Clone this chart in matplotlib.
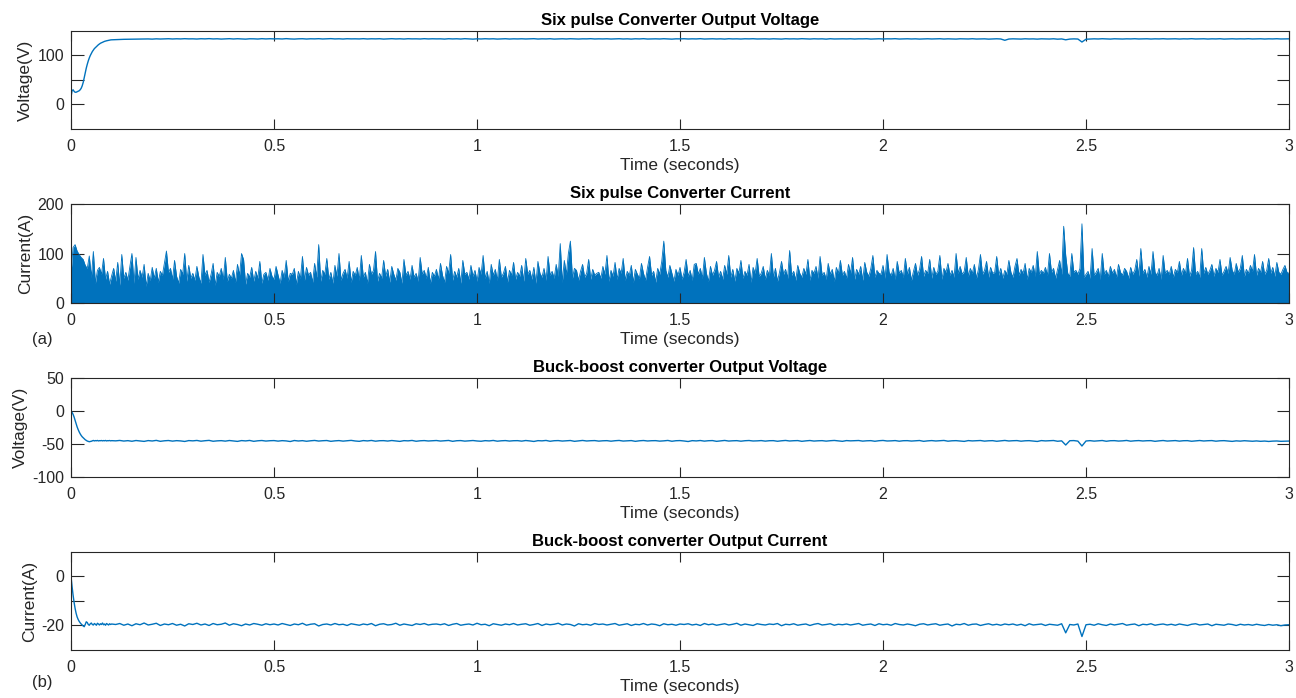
import numpy as np
import matplotlib.pyplot as plt

plt.rcParams['font.family'] = ['Liberation Sans', 'DejaVu Sans']

BLUE = '#0072BD'
DARK = '#262626'

# ---- data ----
# first 0.1 s sampled every 2.5 ms, then every 10 ms up to 3 s
t_start = np.round(np.arange(0, 0.1001, 0.0025), 4)
t_steady = np.round(np.arange(0.11, 3.0001, 0.01), 2)
t_current = np.round(np.arange(0, 3.0001, 0.005), 3)

six_v_start = [15, 28, 30, 27, 25, 25, 26, 27, 28, 30, 33, 38, 45, 55, 65, 74, 82, 89, 95, 100,
               104, 108, 111, 114, 116, 118, 120, 122, 123.5, 125, 126, 127, 128, 128.8, 129.5,
               130, 130.5, 131, 131.4, 131.8, 132]
six_v_steady = [
    132.4, 132.7, 133.0, 133.1, 133.4, 133.2, 133.6, 133.5, 133.8, 133.4, 134.0, 133.6, 133.9, 134.2, 133.7, 134.1, 133.8, 134.3, 133.9, 134.0,
    133.6, 134.2, 133.9, 134.4, 133.8, 134.1, 133.5, 134.0, 134.3, 133.7, 134.2, 133.9, 133.4, 134.1, 134.0, 133.6, 134.3, 133.8, 134.2, 133.9,
    134.1, 133.7, 134.4, 133.8, 133.5, 134.0, 134.2, 133.6, 134.1, 133.9, 134.3, 133.7, 134.0, 134.4, 133.8, 134.1, 133.6, 134.2, 133.9, 134.0,
    133.8, 134.3, 133.7, 134.1, 133.9, 134.2, 133.5, 134.0, 134.3, 133.8, 134.1, 133.6, 134.2, 133.9, 134.0, 133.7, 134.3, 133.8, 134.1, 133.9,
    134.0, 133.5, 134.2, 133.8, 134.1, 133.6, 134.3, 133.9, 133.4, 134.0, 133.7, 134.2, 133.8, 134.1, 133.5, 133.9, 134.2, 133.6, 134.0, 133.8,
    134.1, 133.7, 133.9, 134.3, 133.6, 134.0, 133.8, 134.2, 133.5, 133.9, 134.1, 133.7, 134.2, 133.8, 133.6, 134.0, 133.9, 134.3, 133.7, 134.0,
    133.8, 134.1, 133.6, 133.9, 134.2, 133.7, 134.0, 133.5, 134.1, 133.8, 134.3, 133.6, 133.9, 134.0, 133.7, 134.2, 133.8, 133.4, 134.0, 133.9,
    134.2, 133.7, 134.0, 133.8, 134.3, 133.6, 133.9, 134.1, 133.7, 134.0, 133.5, 134.2, 133.8, 134.0, 133.6, 134.1, 133.9, 134.2, 133.7, 133.8,
    134.0, 133.6, 134.1, 133.9, 133.5, 134.2, 133.8, 134.0, 133.7, 134.3, 133.9, 133.6, 134.1, 133.8, 134.0, 133.4, 134.2, 133.7, 133.9, 134.0,
    133.8, 134.1, 133.6, 134.0, 133.9, 134.2, 133.5, 133.8, 134.1, 133.7, 134.0, 133.9, 134.3, 133.6, 133.8, 134.1, 133.7, 134.0, 133.5, 133.9,
    134.1, 133.7, 133.9, 134.2, 133.6, 134.0, 133.8, 133.5, 134.1, 133.9, 133.7, 134.2, 133.6, 133.9, 134.0, 133.4, 133.8, 134.1, 133.7, 131.0,
    133.6, 134.0, 133.8, 133.5, 134.1, 133.7, 133.9, 133.4, 134.0, 133.8, 133.6, 134.1, 133.3, 133.8, 132.0, 133.5, 133.9, 133.6, 127.5, 133.2,
    133.6, 134.0, 133.7, 134.2, 133.8, 133.5, 134.1, 133.9, 133.6, 134.0, 133.8, 134.2, 133.7, 133.9, 134.1, 133.6, 134.0, 133.8, 134.2, 133.7,
    133.9, 134.1, 133.6, 134.0, 133.8, 134.3, 133.7, 133.9, 134.1, 133.6, 134.0, 133.8, 134.2, 133.5, 133.9, 134.1, 133.7, 134.0, 133.8, 134.2,
    133.7, 133.9, 134.1, 133.6, 134.0, 133.8, 134.2, 133.7, 133.9, 134.0]

six_i = [
    60, 112, 118, 105, 98, 92, 88, 76, 70, 95, 52, 104, 40, 66, 72, 58, 90, 48, 64, 38,
    55, 70, 44, 82, 36, 98, 50, 62, 46, 74, 100, 40, 92, 48, 66, 52, 78, 34, 60, 45,
    72, 50, 70, 42, 64, 56, 80, 105, 62, 70, 48, 86, 54, 40, 68, 58, 100, 44, 76, 50,
    60, 46, 74, 52, 40, 98, 56, 66, 42, 58, 80, 36, 62, 54, 70, 48, 92, 44, 58, 50,
    66, 42, 78, 56, 100, 88, 38, 60, 52, 72, 44, 64, 50, 84, 40, 58, 62, 46, 70, 54,
    48, 74, 56, 40, 66, 52, 86, 44, 60, 58, 70, 38, 64, 50, 94, 46, 72, 56, 62, 42,
    80, 52, 118, 44, 66, 58, 90, 48, 62, 40, 76, 54, 100, 46, 60, 68, 50, 84, 42, 64,
    56, 72, 46, 96, 52, 62, 40, 78, 58, 66, 104, 44, 60, 50, 86, 54, 68, 42, 74, 58,
    46, 70, 62, 40, 88, 56, 64, 48, 76, 52, 60, 44, 92, 58, 66, 50, 72, 40, 62, 54,
    68, 48, 80, 56, 42, 74, 60, 98, 46, 64, 52, 70, 40, 86, 58, 62, 48, 76, 54, 66,
    44, 72, 58, 96, 50, 64, 40, 78, 56, 68, 46, 88, 52, 60, 74, 42, 66, 56, 82, 48,
    62, 54, 76, 44, 90, 58, 66, 48, 72, 40, 84, 60, 52, 70, 46, 94, 56, 64, 50, 78,
    54, 120, 42, 86, 58, 100, 125, 50, 70, 66, 46, 64, 78, 52, 60, 88, 48, 68, 56, 60,
    62, 50, 74, 58, 96, 44, 66, 54, 82, 48, 70, 60, 90, 46, 64, 56, 76, 42, 68, 58,
    50, 80, 60, 46, 72, 94, 56, 64, 42, 70, 58, 84, 125, 66, 52, 76, 60, 44, 68, 56,
    72, 48, 62, 88, 54, 66, 46, 78, 80, 58, 70, 50, 92, 60, 44, 74, 56, 66, 84, 52,
    64, 48, 76, 58, 96, 52, 68, 44, 70, 60, 86, 50, 64, 56, 78, 42, 72, 60, 90, 54,
    60, 74, 48, 66, 56, 100, 52, 70, 44, 62, 84, 58, 68, 50, 106, 56, 64, 46, 76, 60,
    52, 70, 58, 88, 46, 66, 60, 74, 50, 94, 56, 62, 48, 80, 58, 68, 44, 72, 60, 86,
    56, 64, 50, 78, 60, 92, 48, 68, 58, 74, 46, 82, 62, 54, 70, 96, 52, 66, 60, 58,
    76, 50, 98, 62, 56, 70, 48, 84, 60, 66, 52, 90, 58, 72, 46, 64, 80, 56, 68, 94,
    54, 66, 60, 88, 50, 72, 58, 64, 96, 48, 70, 62, 80, 56, 66, 52, 100, 60, 74, 58,
    64, 92, 54, 70, 60, 78, 50, 68, 98, 58, 66, 84, 52, 72, 60, 62, 94, 56, 70, 50,
    66, 58, 86, 62, 52, 74, 90, 56, 68, 60, 80, 48, 70, 62, 76, 54, 104, 58, 66, 60,
    72, 56, 100, 62, 70, 50, 68, 86, 58, 155, 96, 60, 54, 100, 62, 66, 58, 70, 160, 52,
    58, 64, 50, 110, 56, 62, 70, 48, 100, 58, 66, 54, 74, 60, 68, 52, 78, 62, 56, 70,
    64, 50, 72, 58, 66, 88, 54, 110, 60, 68, 52, 74, 58, 104, 62, 56, 70, 48, 96, 60,
    66, 58, 74, 52, 68, 62, 84, 56, 70, 60, 90, 54, 66, 112, 58, 64, 52, 110, 60, 72,
    58, 66, 78, 54, 70, 62, 88, 56, 64, 74, 60, 92, 66, 58, 80, 62, 70, 96, 54, 68,
    60, 76, 64, 98, 56, 70, 62, 84, 58, 66, 90, 60, 72, 54, 82, 62, 58, 68, 76, 62,
    60]

bb_v_start = [0, -2, -5, -9, -14, -19, -24, -28, -31.5, -34.5, -37, -39, -40.5, -42, -43.5,
              -44.5, -45.5, -46, -46.5, -46.2, -45.8, -45.2, -44.6, -45.3, -44.8, -45.1, -44.6,
              -45.3, -44.9, -45, -44.7, -45.2, -44.8, -45.1, -44.6, -45.3, -44.9, -45, -44.7,
              -45.2, -44.9]
bb_v_steady = [
    -45.2, -44.6, -45.5, -44.9, -45.8, -44.7, -45.3, -46.0, -44.8, -45.4, -44.5, -45.9, -45.1, -44.7, -45.6, -44.9, -45.3, -46.1, -44.8, -45.2,
    -44.6, -45.7, -45.0, -44.5, -45.8, -45.2, -44.9, -45.6, -44.7, -45.4, -46.0, -44.8, -45.3, -44.6, -45.9, -45.1, -44.7, -45.5, -45.0, -44.8,
    -45.6, -44.9, -45.3, -46.2, -44.7, -45.4, -44.9, -45.8, -45.1, -44.6, -45.5, -45.0, -44.7, -45.9, -45.2, -44.8, -45.6, -45.1, -44.5, -45.4,
    -45.9, -44.8, -45.3, -44.6, -45.7, -45.0, -44.9, -45.5, -44.7, -45.3, -46.0, -44.9, -45.2, -44.6, -45.8, -45.1, -44.8, -45.4, -45.0, -44.7,
    -45.5, -45.1, -44.6, -45.9, -45.0, -44.8, -45.6, -45.2, -44.7, -45.4, -45.8, -44.9, -45.3, -44.6, -45.7, -45.1, -44.8, -45.5, -45.0, -44.9,
    -45.6, -44.7, -45.3, -46.1, -44.9, -45.2, -44.6, -45.8, -45.0, -44.8, -45.5, -45.1, -44.7, -45.9, -45.2, -44.6, -45.4, -45.0, -44.8, -45.6,
    -45.1, -44.9, -45.7, -45.0, -44.6, -45.5, -45.2, -44.8, -45.9, -45.1, -44.7, -45.4, -45.0, -44.9, -45.6, -45.2, -44.6, -45.8, -45.0, -44.8,
    -45.4, -46.2, -44.9, -45.3, -44.7, -45.6, -45.0, -44.8, -45.9, -45.2, -44.6, -45.5, -45.1, -44.9, -45.7, -45.0, -44.7, -45.4, -45.2, -44.8,
    -45.6, -45.0, -44.9, -45.8, -45.1, -44.6, -45.4, -45.0, -44.8, -45.9, -45.2, -44.7, -45.5, -45.1, -44.9, -45.6, -45.0, -44.6, -45.3, -45.9,
    -44.8, -45.2, -45.0, -44.7, -45.6, -45.1, -44.9, -45.8, -45.0, -44.6, -45.4, -45.2, -44.8, -45.7, -45.0, -44.9, -45.5, -45.1, -44.7, -45.9,
    -45.2, -44.8, -45.4, -45.0, -44.6, -45.7, -45.1, -44.9, -45.5, -46.0, -44.8, -45.3, -45.0, -44.7, -45.6, -45.1, -44.9, -45.8, -45.2, -44.6,
    -45.4, -45.0, -44.8, -45.7, -45.1, -44.9, -45.5, -46.1, -44.8, -45.3, -45.0, -44.7, -45.8, -45.2, -51.5, -45.0, -44.8, -45.6, -53.0, -45.4,
    -44.9, -45.6, -45.1, -44.7, -45.8, -45.0, -44.9, -45.5, -45.2, -44.6, -45.7, -45.1, -44.8, -45.4, -45.0, -44.9, -45.9, -45.2, -44.7, -45.5,
    -45.1, -44.8, -45.6, -45.0, -44.9, -45.8, -45.2, -44.7, -45.4, -45.0, -44.8, -45.7, -45.1, -44.9, -45.5, -46.0, -45.2, -45.6, -45.0, -45.4,
    -45.8, -45.3, -45.9, -45.5, -46.1, -45.6, -45.4, -45.9, -45.7, -45.5]

bb_i_start = [0, -4, -7.5, -10.5, -13, -15, -16.5, -17.5, -18.3, -18.9, -19.4, -19.8, -20.2,
              -20.5, -19.6, -18.5, -18.8, -19.6, -19.9, -19.3, -19.0, -19.6, -19.8, -19.2,
              -19.5, -19.9, -19.1, -19.4, -19.8, -19.3, -19.6, -19.0, -19.7, -19.4, -19.9,
              -19.2, -19.5, -19.8, -19.3, -19.6, -19.4]
bb_i_steady = [
    -19.6, -19.2, -19.9, -19.4, -20.1, -19.3, -19.7, -19.0, -19.8, -19.5, -19.1, -20.0, -19.4, -19.7, -19.2, -19.9, -19.5, -20.2, -19.3, -19.6,
    -19.1, -19.8, -19.4, -20.0, -19.2, -19.7, -19.5, -19.0, -19.9, -19.3, -19.6, -20.1, -19.4, -19.8, -19.2, -19.5, -19.9, -19.3, -19.7, -19.4,
    -19.8, -19.2, -19.6, -20.0, -19.4, -19.7, -19.1, -19.9, -19.5, -19.3, -20.2, -19.6, -19.4, -19.8, -19.2, -19.7, -19.5, -20.0, -19.3, -19.6,
    -19.9, -19.4, -19.7, -19.2, -20.1, -19.5, -19.3, -19.8, -19.6, -19.1, -19.9, -19.4, -19.7, -20.0, -19.3, -19.6, -19.2, -19.8, -19.5, -19.4,
    -19.7, -19.3, -20.0, -19.5, -19.2, -19.9, -19.6, -19.4, -19.8, -19.1, -19.7, -19.5, -20.1, -19.3, -19.6, -19.9, -19.4, -19.7, -19.2, -19.8,
    -19.5, -19.3, -19.9, -19.6, -19.2, -20.0, -19.4, -19.7, -19.5, -19.1, -19.8, -19.4, -19.6, -20.2, -19.3, -19.7, -19.5, -19.9, -19.2, -19.6,
    -19.4, -19.8, -19.5, -19.2, -19.9, -19.6, -19.3, -20.0, -19.5, -19.7, -19.2, -19.8, -19.4, -19.6, -20.1, -19.3, -19.7, -19.5, -19.9, -19.4,
    -19.6, -19.3, -19.8, -19.5, -20.0, -19.2, -19.7, -19.4, -19.9, -19.6, -19.3, -19.8, -19.5, -19.1, -19.9, -19.4, -19.7, -20.0, -19.3, -19.6,
    -19.8, -19.4, -19.6, -19.2, -20.1, -19.5, -19.7, -19.3, -19.9, -19.6, -19.4, -20.0, -19.5, -19.2, -19.8, -19.6, -19.3, -19.9, -19.5, -19.7,
    -19.4, -19.8, -19.5, -19.2, -19.9, -19.6, -19.4, -20.0, -19.3, -19.7, -19.5, -19.9, -19.2, -19.6, -19.8, -19.4, -19.7, -20.1, -19.5, -19.3,
    -19.8, -19.5, -19.3, -19.9, -19.6, -19.4, -20.2, -19.5, -19.7, -19.2, -19.9, -19.5, -19.4, -20.0, -19.6, -19.3, -19.8, -19.5, -19.9, -19.4,
    -19.7, -19.4, -19.9, -19.5, -20.1, -19.3, -19.8, -19.6, -19.4, -20.0, -19.5, -19.7, -19.9, -19.3, -23.0, -19.6, -19.8, -19.4, -24.5, -19.7,
    -19.5, -19.9, -19.3, -19.7, -20.0, -19.4, -19.8, -19.5, -19.2, -19.9, -19.6, -19.4, -20.1, -19.5, -19.7, -19.3, -19.9, -19.6, -19.4, -19.8,
    -19.5, -19.9, -19.4, -19.7, -20.0, -19.5, -19.3, -19.8, -19.6, -19.4, -20.1, -19.5, -19.7, -19.9, -19.4, -19.6, -20.0, -19.5, -19.8, -19.6,
    -19.9, -19.5, -19.8, -20.0, -19.6, -19.9, -19.7, -20.1, -19.8, -19.7]

xticks = [0, 0.5, 1, 1.5, 2, 2.5, 3]
xtick_labels = ['0', '0.5', '1', '1.5', '2', '2.5', '3']

panels = [
    ('Six pulse Converter Output Voltage', 'Voltage(V)', (-50, 150),
     [0, 50, 100], ['0', '', '100']),
    ('Six pulse Converter Current', 'Current(A)', (0, 200),
     [0, 100, 200], ['0', '100', '200']),
    ('Buck-boost converter Output Voltage', 'Voltage(V)', (-100, 50),
     [-100, -50, 0, 50], ['-100', '-50', '0', '50']),
    ('Buck-boost converter Output Current', 'Current(A)', (-30, 10),
     [-20, -10, 0], ['-20', '', '0']),
]

rects = [
    [0.0548, 0.8152, 0.9398, 0.1404],
    [0.0548, 0.5659, 0.9398, 0.1418],
    [0.0548, 0.3166, 0.9398, 0.1418],
    [0.0548, 0.0688, 0.9398, 0.1404],
]

fig = plt.figure(figsize=(12.96, 6.98), dpi=100)
axes = [fig.add_axes(r) for r in rects]

t_full = np.concatenate([t_start, t_steady])
axes[0].plot(t_full, np.concatenate([six_v_start, six_v_steady]), color=BLUE, lw=1.0)
axes[1].fill_between(t_current, 0, six_i, color=BLUE, lw=0)
axes[1].plot(t_current, six_i, color=BLUE, lw=0.6)
axes[2].plot(t_full, np.concatenate([bb_v_start, bb_v_steady]), color=BLUE, lw=1.0)
axes[3].plot(t_full, np.concatenate([bb_i_start, bb_i_steady]), color=BLUE, lw=1.0)

for ax, (title, ylabel, ylim, yt, ytl) in zip(axes, panels):
    ax.set_xlim(0, 3)
    ax.set_ylim(*ylim)
    ax.set_xticks(xticks)
    ax.set_xticklabels(xtick_labels)
    ax.set_yticks(yt)
    ax.set_yticklabels(ytl)
    ax.set_title(title, fontsize=12, fontweight='bold', color='black', pad=4)
    ax.set_ylabel(ylabel, fontsize=12.5, color=DARK, labelpad=3)
    ax.set_xlabel('Time (seconds)', fontsize=12.5, color=DARK, labelpad=3)
    ax.tick_params(axis='x', direction='in', top=True, length=7, width=0.8,
                   labelsize=11.5, colors=DARK, pad=7)
    ax.tick_params(axis='y', direction='in', right=True, length=9, width=0.8,
                   labelsize=11.5, colors=DARK, pad=5)
    for s in ax.spines.values():
        s.set_color(DARK)
        s.set_linewidth(0.8)

fig.text(0.0247, 0.513, '(a)', fontsize=12, color=DARK, va='center')
fig.text(0.0247, 0.0215, '(b)', fontsize=12, color=DARK, va='center')

fig.savefig('out.png', dpi=100)
